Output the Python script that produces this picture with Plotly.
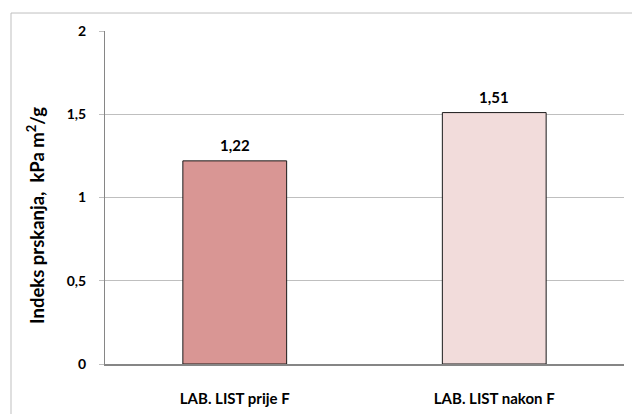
import plotly.graph_objects as go

categories = ["LAB. LIST prije F", "LAB. LIST nakon F"]
values = [1.22, 1.51]
value_labels = ["1,22", "1,51"]
bar_colors = ["#D99694", "#F2DCDB"]
y_tickvals = [0, 0.5, 1, 1.5, 2]
y_ticktext = ["0", "0,5", "1", "1,5", "2"]
y_title = "Indeks prskanja,\u00a0 kPa m<sup>2</sup>/g"

FONT = "Lato"

fig = go.Figure()
fig.add_trace(go.Bar(
    x=categories, y=values,
    marker=dict(color=bar_colors, line=dict(color="#1a1a1a", width=1)),
    hoverinfo="skip",
))

for c, v, t in zip(categories, values, value_labels):
    fig.add_annotation(x=c, y=v, text="<b>%s</b>" % t, showarrow=False,
                       yanchor="bottom", yshift=5,
                       font=dict(family=FONT, size=15, color="#000"))

fig.add_annotation(xref="paper", yref="paper", x=-0.162, y=0.446,
                   text="<b>%s</b>" % y_title, textangle=-90, showarrow=False,
                   font=dict(family=FONT, size=18.5, color="#000"))

fig.add_shape(type="rect", xref="paper", yref="paper",
              x0=-0.1811, x1=1.05, y0=-0.2, y1=1.054,
              line=dict(color="#BFBFBF", width=1), fillcolor="rgba(0,0,0,0)",
              layer="above")

fig.update_layout(
    width=632, height=414,
    margin=dict(l=105, r=8, t=31, b=50),
    paper_bgcolor="white", plot_bgcolor="white",
    bargap=0.6, showlegend=False,
    separators=",.",
    font=dict(family=FONT, size=12, color="#000"),
)
fig.update_xaxes(
    showline=True, linecolor="#868686", linewidth=1.5,
    showgrid=False, ticks="", ticklabelstandoff=20,
    tickfont=dict(family=FONT, size=15, color="#000", weight="bold"),
)
fig.update_yaxes(
    range=[0, 2], tickvals=y_tickvals, ticktext=y_ticktext,
    showline=True, linecolor="#868686", linewidth=1,
    showgrid=True, gridcolor="#BFBFBF", gridwidth=1,
    zeroline=False,
    ticks="outside", ticklen=5, tickcolor="#BFBFBF",
    ticklabelstandoff=10,
    tickfont=dict(family=FONT, size=14, color="#000", weight="bold"),
)

fig.write_html("out.html", config={"displayModeBar": False},
               post_script="document.body.style.margin='0';")
